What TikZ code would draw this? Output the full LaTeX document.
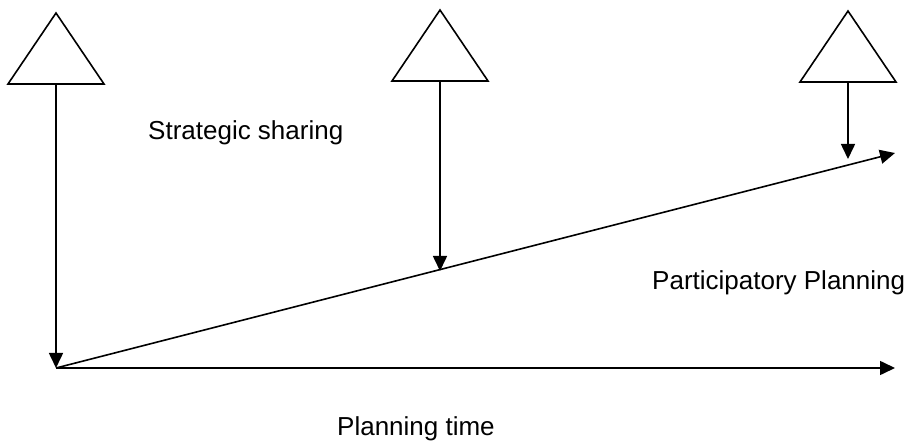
\documentclass[tikz,border=0pt]{standalone}
\usepackage{fontspec}
\setmainfont{Liberation Sans}
\usetikzlibrary{arrows.meta}
\newcommand{\drawflag}[1]{
	\draw[line width=1.6pt,line join=miter] (#1) ++(-48,0) -- ++(48,-71) -- ++(48,71) -- cycle;
}
\tikzset{
	axis/.style={line width=1.6pt,-{Triangle[length=15pt,width=14pt]}},
	lbl/.style={anchor=base west,inner sep=0pt,font=\fontsize{26}{31}\selectfont}
}
\begin{document}
\begin{tikzpicture}[x=1pt,y=-1pt]
	\useasboundingbox (0,0) rectangle (914,443);

	% triangles on top
	\coordinate (t1) at (56,84);
	\coordinate (t2) at (440,81);
	\coordinate (t3) at (848,82);
	\drawflag{t1}
	\drawflag{t2}
	\drawflag{t3}

	% axes
	\coordinate (o) at (56,368);
	\coordinate (xend) at (895,368);
	\coordinate (dend) at (895,153);
	\coordinate (m2) at (440,271);
	\coordinate (m3) at (848,159);

	\draw[axis] (o) -- (xend);
	\draw[axis] (o) -- (dend);
	\draw[axis] (t1) -- (o);
	\draw[axis] (t2) -- (m2);
	\draw[axis] (t3) -- (m3);

	\node[lbl] (strat) at (148,140) {Strategic sharing};
	\node[lbl] (part) at (652,290) {Participatory Planning};
	\node[lbl] (ptime) at (337,436) {Planning time};
\end{tikzpicture}
\end{document}
